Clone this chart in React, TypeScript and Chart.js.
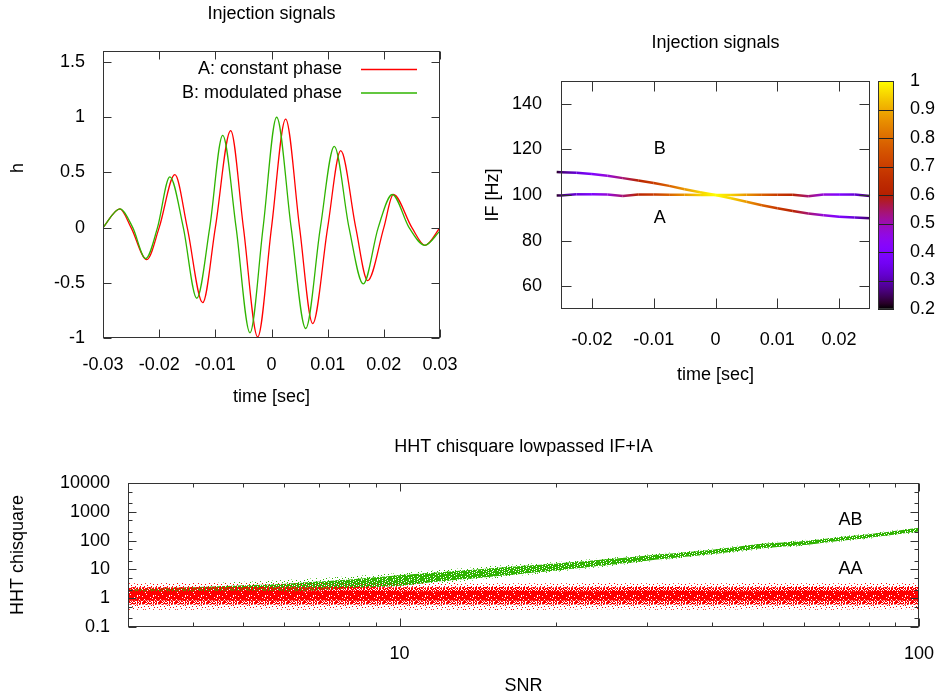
import React, { useEffect, useRef } from 'react';
import { Chart, registerables } from 'chart.js';

Chart.register(...registerables);

const FONT_FAMILY = '"Liberation Sans", Arial, sans-serif';
const FONT_SIZE = 18;
const INK = '#000';
const FRAME = '#333';
const RED = '#ff0000';
const GREEN = '#2fb400';

// ---------------- Panel 1 : waveforms ----------------
const WAVE_TITLE = 'Injection signals';
const WAVE_X_TITLE = 'time [sec]';
const WAVE_Y_TITLE = 'h';
const WAVE_X_TICKS = [-0.03, -0.02, -0.01, 0, 0.01, 0.02, 0.03];
const WAVE_X_TICK_LABELS = ['-0.03', '-0.02', '-0.01', '0', '0.01', '0.02', '0.03'];
const WAVE_Y_TICKS = [-1, -0.5, 0, 0.5, 1, 1.5];
const WAVE_Y_TICK_LABELS = ['-1', '-0.5', '0', '0.5', '1', '1.5'];
const WAVE_A_LABEL = 'A: constant phase';
const WAVE_B_LABEL = 'B: modulated phase';
const WAVE_A_TIME = [-0.03, -0.027, -0.025, -0.0222, -0.02, -0.0172, -0.015, -0.01225, -0.01, -0.00727, -0.005, -0.00246, 0, 0.00252, 0.005, 0.00733, 0.01, 0.01232, 0.015, 0.01712, 0.02, 0.02169, 0.025, 0.02733, 0.03];
const WAVE_A_H = [0, 0.17, 0, -0.29, 0, 0.48, 0, -0.68, 0, 0.878, 0, -0.99, 0, 0.983, 0, -0.869, 0, 0.697, 0, -0.48, 0, 0.3, 0, -0.16, 0];
const WAVE_B_TIME = [-0.03, -0.027, -0.0247, -0.0224, -0.0203, -0.0181, -0.0157, -0.0133, -0.011, -0.00869, -0.0063, -0.00383, -0.0015, 0.00092, 0.0035, 0.00609, 0.0087, 0.01118, 0.0138, 0.01634, 0.019, 0.0215, 0.0245, 0.0273, 0.03];
const WAVE_B_H = [0, 0.17, 0, -0.28, 0, 0.46, 0, -0.64, 0, 0.835, 0, -0.953, 0, 1.0, 0, -0.914, 0, 0.736, 0, -0.51, 0, 0.3, 0, -0.16, -0.03];

// ---------------- Panel 2 : instantaneous frequency ----------------
const IF_TITLE = 'Injection signals';
const IF_X_TITLE = 'time [sec]';
const IF_Y_TITLE = 'IF [Hz]';
const IF_X_TICKS = [-0.02, -0.01, 0, 0.01, 0.02];
const IF_X_TICK_LABELS = ['-0.02', '-0.01', '0', '0.01', '0.02'];
const IF_Y_TICKS = [60, 80, 100, 120, 140];
const IF_Y_TICK_LABELS = ['60', '80', '100', '120', '140'];
const CB_TICKS = [0.2, 0.3, 0.4, 0.5, 0.6, 0.7, 0.8, 0.9, 1];
const CB_TICK_LABELS = ['0.2', '0.3', '0.4', '0.5', '0.6', '0.7', '0.8', '0.9', '1'];
const IF_TIME = [-0.0257, -0.025, -0.0225, -0.02, -0.0175, -0.015, -0.0125, -0.01, -0.0075, -0.005, -0.0025, 0, 0.0025, 0.005, 0.0075, 0.01, 0.0125, 0.015, 0.0175, 0.02, 0.0225, 0.025];
const IF_A = [99.8, 99.8, 100.3, 100.3, 100.2, 99.6, 100.2, 100.2, 100.1, 100.1, 100, 100, 100, 100.1, 100.1, 100.1, 100.1, 99.5, 100.2, 100.2, 100.2, 99.6];
const IF_B = [110.1, 110.0, 109.8, 109.2, 108.4, 107.4, 106.4, 105.3, 104.0, 102.5, 101.2, 100, 98.6, 97.0, 95.5, 94.2, 93.0, 91.9, 91.1, 90.5, 90.1, 89.8];
const IF_AMP = [0.22, 0.26, 0.33, 0.4, 0.47, 0.54, 0.62, 0.69, 0.78, 0.87, 0.95, 1.0, 0.95, 0.87, 0.78, 0.69, 0.62, 0.54, 0.47, 0.4, 0.33, 0.25];
const IF_NOTES = [
  { text: 'B', x: -0.01, y: 120 },
  { text: 'A', x: -0.01, y: 90 },
];

// ---------------- Panel 3 : chisquare vs SNR ----------------
const CHI_TITLE = 'HHT chisquare lowpassed IF+IA';
const CHI_X_TITLE = 'SNR';
const CHI_Y_TITLE = 'HHT chisquare';
const CHI_X_MAJOR = [10, 100];
const CHI_X_MAJOR_LABELS = ['10', '100'];
const CHI_X_MINOR = [4, 5, 6, 7, 8, 9, 20, 30, 40, 50, 60, 70, 80, 90];
const CHI_Y_MAJOR = [0.1, 1, 10, 100, 1000, 10000];
const CHI_Y_MAJOR_LABELS = ['0.1', '1', '10', '100', '1000', '10000'];
const CHI_Y_MINOR = [0.2, 0.5, 2, 5, 20, 50, 200, 500, 2000, 5000];
const SNR = [3, 4, 5, 6, 7, 8, 10, 12, 15, 20, 25, 30, 40, 50, 60, 70, 80, 100];
// AB cloud: outer spread and dense core
const AB_LOW = [0.7, 0.85, 1.0, 1.2, 1.4, 1.7, 2.3, 3.2, 4.8, 8.2, 12.5, 18.5, 32, 50, 66, 92, 117, 190];
const AB_HIGH = [2.9, 3.2, 3.7, 4.3, 5.0, 5.8, 7.5, 9.5, 13, 18, 25, 33, 52, 82, 104, 140, 176, 295];
const AB_CORE_LOW = [1.0, 1.15, 1.35, 1.6, 1.9, 2.2, 2.7, 3.9, 5.6, 9.2, 14, 20, 34, 54, 70, 97, 124, 205];
const AB_CORE_HIGH = [2.0, 2.4, 2.8, 3.2, 3.8, 4.5, 6.3, 8.0, 11, 16, 22.5, 30.5, 48, 77, 97, 131, 165, 278];
// AA cloud: outer spread, middle and dense core
const AA_LOW = [0.4, 0.4, 0.41, 0.4, 0.4, 0.41, 0.4, 0.4, 0.39, 0.4, 0.41, 0.4, 0.4, 0.41, 0.4, 0.4, 0.41, 0.4];
const AA_HIGH = [3.3, 3.4, 3.3, 3.3, 3.4, 3.3, 3.3, 3.4, 3.3, 3.3, 3.4, 3.3, 3.3, 3.4, 3.3, 3.3, 3.4, 3.3];
const AA_MID_LOW = [0.6, 0.61, 0.6, 0.6, 0.61, 0.6, 0.6, 0.61, 0.6, 0.6, 0.61, 0.6, 0.6, 0.61, 0.6, 0.6, 0.61, 0.6];
const AA_MID_HIGH = [2.4, 2.4, 2.45, 2.4, 2.4, 2.45, 2.4, 2.4, 2.45, 2.4, 2.4, 2.45, 2.4, 2.4, 2.45, 2.4, 2.4, 2.45];
const AA_CORE_LOW = [0.82, 0.83, 0.82, 0.82, 0.83, 0.82, 0.82, 0.83, 0.82, 0.82, 0.83, 0.82, 0.82, 0.83, 0.82, 0.82, 0.83, 0.82];
const AA_CORE_HIGH = [1.75, 1.75, 1.8, 1.75, 1.75, 1.8, 1.75, 1.75, 1.8, 1.75, 1.75, 1.8, 1.75, 1.75, 1.8, 1.75, 1.75, 1.8];
const CHI_NOTES = [
  { text: 'AB', x: 70, y: 500 },
  { text: 'AA', x: 70, y: 10 },
];

// speckle textures used to render the dense point clouds (style only)
const SOLID_TILE = [
  'xxx.xxxxx.xxxx.x',
  'x.xxxx.xxxxx.xxx',
  'xxxx.xxx.xxxxx.x',
  '.xxxxx.xxxx.xxxx',
  'xx.xxxxx.xxxxx.x',
  'xxxx.x.xxxx.xxxx',
  'x.xxxxxx.xxxx.xx',
  'xxx.xx.xxxxx.xxx',
  'xx.xxxxx.x.xxxxx',
  'xxxxx.xxxxxx.x.x',
  '.xx.xxxx.xxxxxxx',
  'xxxxxx.xxx.xx.xx',
  'x.xxx.xxxxxxx.xx',
  'xxx.xxxx.xx.xxxx',
  'xx.xxx.xxxxxxx.x',
  'x.xxxxxxx.x.xxxx',
];
const DENSE_TILE = [
  'x.xx.xxx..x.xx.x',
  '.xx.x..xxx.xx..x',
  'xx..xx.x..xxx.x.',
  '.x.xx.xx.x..x.xx',
  'x.x..x.xxx.x.xx.',
  'xx.x.xx..x.xx..x',
  '.xx.x..x.xx.x.xx',
  'x..xx.xx.x.xx.x.',
  '.x.x.xx.xx..x.xx',
  'xx.xx..x.x.xx..x',
  'x.x..xx.x.xx.xx.',
  '.xx.x.x.xx..x.x.',
  'x..xx.xx..x.xx.x',
  '.x.x..x.xx.x.x.x',
  'xx.x.xx.x..xx.x.',
  '.x.xx..xx.x..xx.',
];
const SPARSE_TILE = [
  'x.......x.......',
  '....x.......x...',
  '..........x....x',
  '.x....x.........',
  '.........x...x..',
  '...x............',
  'x......x....x...',
  '.....x.........x',
  '..x........x....',
  '.......x.x......',
  'x...x...........',
  '..........x..x..',
  '.....x..........',
  '.x.......x.....x',
  '......x.....x...',
  '...x............',
];

// ---------------- helpers ----------------
const CB_MIN = 0.2;
const CB_MAX = 1;
function palette(v: number): string {
  const g = Math.min(1, Math.max(0, (v - CB_MIN) / (CB_MAX - CB_MIN)));
  const r = Math.sqrt(g);
  const gg = g * g * g;
  const b = Math.max(0, Math.sin(2 * Math.PI * g));
  return `rgb(${Math.round(r * 255)},${Math.round(gg * 255)},${Math.round(b * 255)})`;
}

function font(size = FONT_SIZE) {
  return `${size}px ${FONT_FAMILY}`;
}

function labelFor(values: number[], labels: string[]) {
  return (v: number) => {
    const k = values.indexOf(v);
    return k >= 0 ? labels[k] : '';
  };
}

function axis(ticks: number[], labeler: (v: number) => string, padding: number, fit: (s: any) => void, extra: any = {}) {
  return {
    grid: { display: false, drawTicks: false },
    border: { display: false },
    ticks: {
      autoSkip: false,
      maxRotation: 0,
      minRotation: 0,
      padding,
      color: INK,
      font: { family: FONT_FAMILY, size: FONT_SIZE },
      callback: (v: number) => labeler(v),
    },
    afterBuildTicks: (s: any) => {
      s.ticks = ticks.slice().sort((a, b) => a - b).map((v) => ({ value: v }));
    },
    afterFit: (s: any) => {
      fit(s);
      s.paddingLeft = 0;
      s.paddingRight = 0;
      s.paddingTop = 0;
      s.paddingBottom = 0;
    },
    ...extra,
  };
}

function tilePattern(canvas: HTMLCanvasElement, tile: string[], color: string) {
  const c = document.createElement('canvas');
  c.width = tile[0].length;
  c.height = tile.length;
  const g = c.getContext('2d')!;
  g.fillStyle = color;
  tile.forEach((row, y) => {
    for (let x = 0; x < row.length; x++) if (row[x] === 'x') g.fillRect(x, y, 1, 1);
  });
  return canvas.getContext('2d')!.createPattern(c, 'repeat');
}

const framePlugin = {
  id: 'gpFrame',
  afterDatasetsDraw(chart: any, _a: any, o: any) {
    const { ctx, chartArea: a } = chart;
    const L = Math.round(a.left) + 0.5;
    const R = Math.round(a.right) - 0.5;
    const T = Math.round(a.top) + 0.5;
    const B = Math.round(a.bottom) - 0.5;
    ctx.save();
    ctx.strokeStyle = FRAME;
    ctx.lineWidth = 1;
    ctx.beginPath();
    for (const id of ['x', 'y']) {
      const s = chart.scales[id];
      if (!s) continue;
      for (const t of s.ticks) {
        const len = t.label === '' ? o.minor : o.major;
        const p = Math.round(s.getPixelForValue(t.value)) + 0.5;
        if (id === 'x') {
          ctx.moveTo(p, B);
          ctx.lineTo(p, B - len);
          ctx.moveTo(p, T);
          ctx.lineTo(p, T + len);
        } else {
          ctx.moveTo(L, p);
          ctx.lineTo(L + len, p);
          ctx.moveTo(R, p);
          ctx.lineTo(R - len, p);
        }
      }
    }
    ctx.stroke();
    ctx.strokeRect(L, T, R - L, B - T);
    ctx.restore();
  },
};

const textPlugin = {
  id: 'gpText',
  afterDraw(chart: any, _a: any, o: any) {
    const ctx = chart.ctx;
    const a = chart.chartArea;
    for (const t of o.items || []) {
      ctx.save();
      ctx.font = font(t.size);
      ctx.fillStyle = INK;
      ctx.textAlign = t.align || 'center';
      ctx.textBaseline = 'middle';
      let x = t.x;
      let y = t.y;
      if (t.centerX) x = (a.left + a.right) / 2;
      if (t.dataX !== undefined) {
        x = chart.scales.x.getPixelForValue(t.dataX);
        y = chart.scales.y.getPixelForValue(t.dataY);
      }
      ctx.translate(x, y);
      if (t.rotate) ctx.rotate(t.rotate);
      ctx.fillText(t.text, 0, 0);
      ctx.restore();
    }
  },
};

const legendPlugin = {
  id: 'gpLegend',
  afterDraw(chart: any, _a: any, o: any) {
    const ctx = chart.ctx;
    chart.data.datasets.forEach((ds: any, i: number) => {
      const y = o.y0 + i * o.dy;
      ctx.save();
      ctx.font = font();
      ctx.fillStyle = INK;
      ctx.textAlign = 'right';
      ctx.textBaseline = 'middle';
      ctx.fillText(ds.label, o.textRight, y);
      ctx.strokeStyle = ds.borderColor;
      ctx.lineWidth = ds.borderWidth;
      ctx.beginPath();
      ctx.moveTo(o.x1, y);
      ctx.lineTo(o.x2, y);
      ctx.stroke();
      ctx.restore();
    });
  },
};

const colorbarPlugin = {
  id: 'gpColorbar',
  afterDraw(chart: any, _a: any, o: any) {
    const s = chart.scales.cb;
    const ctx = chart.ctx;
    const a = chart.chartArea;
    const x0 = Math.round(a.right) + o.gap;
    const x1 = x0 + o.width;
    const top = s.getPixelForValue(CB_MAX);
    const bot = s.getPixelForValue(CB_MIN);
    const grad = ctx.createLinearGradient(0, bot, 0, top);
    for (let k = 0; k <= 40; k++) {
      grad.addColorStop(k / 40, palette(CB_MIN + (k / 40) * (CB_MAX - CB_MIN)));
    }
    ctx.save();
    ctx.fillStyle = grad;
    ctx.fillRect(x0, top, x1 - x0, bot - top);
    ctx.strokeStyle = '#222';
    ctx.lineWidth = 1;
    ctx.beginPath();
    for (const t of s.ticks) {
      const p = Math.round(s.getPixelForValue(t.value)) + 0.5;
      ctx.moveTo(x0, p);
      ctx.lineTo(x1, p);
    }
    ctx.stroke();
    ctx.strokeStyle = FRAME;
    ctx.strokeRect(x0 + 0.5, Math.round(top) + 0.5, x1 - x0 - 1, Math.round(bot - top) - 1);
    ctx.restore();
  },
};

const baseOptions = {
  animation: false,
  responsive: false,
  events: [],
};

function makeWave(canvas: HTMLCanvasElement) {
  return new Chart(canvas, {
    type: 'line',
    data: {
      datasets: [
        {
          label: WAVE_A_LABEL,
          data: WAVE_A_TIME.map((t, i) => ({ x: t, y: WAVE_A_H[i] })),
          borderColor: RED,
          borderWidth: 1.3,
          pointRadius: 0,
          cubicInterpolationMode: 'monotone',
          order: 1,
        },
        {
          label: WAVE_B_LABEL,
          data: WAVE_B_TIME.map((t, i) => ({ x: t, y: WAVE_B_H[i] })),
          borderColor: GREEN,
          borderWidth: 1.3,
          pointRadius: 0,
          cubicInterpolationMode: 'monotone',
          order: 0,
        },
      ],
    },
    options: {
      ...baseOptions,
      layout: { padding: { left: 0, top: 51, right: 20, bottom: 0 } },
      plugins: {
        legend: { display: false },
        tooltip: { enabled: false },
        gpFrame: { major: 8, minor: 4 },
        gpLegend: { textRight: 342, x1: 361, x2: 417, y0: 69.5, dy: 23.5 },
        gpText: {
          items: [
            { text: WAVE_TITLE, centerX: true, y: 14 },
            { text: WAVE_Y_TITLE, x: 18.5, y: 168, rotate: -Math.PI / 2 },
            { text: WAVE_X_TITLE, centerX: true, y: 397 },
          ],
        },
      },
      scales: {
        x: { type: 'linear', min: -0.03, max: 0.03, ...axis(WAVE_X_TICKS, labelFor(WAVE_X_TICKS, WAVE_X_TICK_LABELS), 16, (s: any) => { s.height = 82; }) },
        y: { type: 'linear', min: -1, max: 1.6, ...axis(WAVE_Y_TICKS, labelFor(WAVE_Y_TICKS, WAVE_Y_TICK_LABELS), 18, (s: any) => { s.width = 103; }) },
      },
    },
    plugins: [framePlugin, textPlugin, legendPlugin],
  } as any);
}

function segColor(c: any) {
  const g = c.chart.ctx.createLinearGradient(c.p0.x, 0, c.p1.x + 0.01, 0);
  g.addColorStop(0, palette(IF_AMP[c.p0DataIndex]));
  g.addColorStop(1, palette(IF_AMP[c.p1DataIndex]));
  return g;
}

function makeIF(canvas: HTMLCanvasElement) {
  const lineStyle = {
    borderColor: palette(1),
    borderWidth: 2.5,
    pointRadius: 0,
    tension: 0,
    clip: false,
    segment: { borderColor: segColor },
  };
  return new Chart(canvas, {
    type: 'line',
    data: {
      datasets: [
        { label: 'A', data: IF_TIME.map((t, i) => ({ x: t, y: IF_A[i] })), ...lineStyle },
        { label: 'B', data: IF_TIME.map((t, i) => ({ x: t, y: IF_B[i] })), ...lineStyle },
      ],
    },
    options: {
      ...baseOptions,
      layout: { padding: { left: 0, top: 81, right: 0, bottom: 0 } },
      plugins: {
        legend: { display: false },
        tooltip: { enabled: false },
        gpFrame: { major: 10, minor: 5 },
        gpColorbar: { gap: 8, width: 16 },
        gpText: {
          items: [
            { text: IF_TITLE, centerX: true, y: 43 },
            { text: IF_Y_TITLE, x: 33, y: 195, rotate: -Math.PI / 2 },
            { text: IF_X_TITLE, centerX: true, y: 375 },
            ...IF_NOTES.map((n) => ({ text: n.text, dataX: n.x, dataY: n.y, align: 'left' })),
          ],
        },
      },
      scales: {
        x: { type: 'linear', min: -0.025, max: 0.025, ...axis(IF_X_TICKS, labelFor(IF_X_TICKS, IF_X_TICK_LABELS), 20, (s: any) => { s.height = 111; }) },
        y: { type: 'linear', min: 50, max: 150, ...axis(IF_Y_TICKS, labelFor(IF_Y_TICKS, IF_Y_TICK_LABELS), 19, (s: any) => { s.width = 101; }) },
        cb: { type: 'linear', position: 'right', min: CB_MIN, max: CB_MAX, ...axis(CB_TICKS, labelFor(CB_TICKS, CB_TICK_LABELS), 40, (s: any) => { s.width = 68; }) },
      },
    },
    plugins: [framePlugin, textPlugin, colorbarPlugin],
  } as any);
}

function band(low: number[], high: number[], fillStyle: any) {
  return [
    { data: SNR.map((s, i) => ({ x: s, y: low[i] })), borderWidth: 0, pointRadius: 0, fill: false, tension: 0.3 },
    { data: SNR.map((s, i) => ({ x: s, y: high[i] })), borderWidth: 0, pointRadius: 0, fill: '-1', backgroundColor: fillStyle, tension: 0.3 },
  ];
}

function makeChi(canvas: HTMLCanvasElement) {
  const redSolid = tilePattern(canvas, SOLID_TILE, RED);
  const redDense = tilePattern(canvas, DENSE_TILE, RED);
  const redSparse = tilePattern(canvas, SPARSE_TILE, RED);
  const greenSolid = tilePattern(canvas, SOLID_TILE, GREEN);
  const greenSparse = tilePattern(canvas, SPARSE_TILE, GREEN);
  return new Chart(canvas, {
    type: 'line',
    data: {
      datasets: [
        ...band(AA_CORE_LOW, AA_CORE_HIGH, redSolid),
        ...band(AA_MID_LOW, AA_MID_HIGH, redDense),
        ...band(AA_LOW, AA_HIGH, redSparse),
        ...band(AB_CORE_LOW, AB_CORE_HIGH, greenSolid),
        ...band(AB_LOW, AB_HIGH, greenSparse),
      ],
    },
    options: {
      ...baseOptions,
      layout: { padding: { left: 0, top: 63, right: 19, bottom: 0 } },
      plugins: {
        legend: { display: false },
        tooltip: { enabled: false },
        gpFrame: { major: 8, minor: 4 },
        gpText: {
          items: [
            { text: CHI_TITLE, centerX: true, y: 27 },
            { text: CHI_Y_TITLE, x: 18, y: 135, rotate: -Math.PI / 2 },
            { text: CHI_X_TITLE, centerX: true, y: 266.5 },
            ...CHI_NOTES.map((n) => ({ text: n.text, dataX: n.x, dataY: n.y, align: 'left' })),
          ],
        },
      },
      scales: {
        x: { type: 'logarithmic', min: 3, max: 100, ...axis([...CHI_X_MAJOR, ...CHI_X_MINOR], labelFor(CHI_X_MAJOR, CHI_X_MAJOR_LABELS), 16, (s: any) => { s.height = 73; }) },
        y: { type: 'logarithmic', min: 0.1, max: 10000, ...axis([...CHI_Y_MAJOR, ...CHI_Y_MINOR], labelFor(CHI_Y_MAJOR, CHI_Y_MAJOR_LABELS), 18, (s: any) => { s.width = 128; }) },
      },
    },
    plugins: [framePlugin, textPlugin],
  } as any);
}

export default function App() {
  const r1 = useRef<HTMLCanvasElement>(null);
  const r2 = useRef<HTMLCanvasElement>(null);
  const r3 = useRef<HTMLCanvasElement>(null);
  useEffect(() => {
    const charts = [makeWave(r1.current!), makeIF(r2.current!), makeChi(r3.current!)];
    return () => charts.forEach((c) => c.destroy());
  }, []);
  const pos = (left: number, top: number, width: number, height: number): React.CSSProperties => ({
    position: 'absolute', left, top, width, height,
  });
  return (
    <div style={{ position: 'absolute', left: 0, top: 0, width: 938, height: 700, background: '#fff', overflow: 'hidden' }}>
      <canvas ref={r1} width={460} height={420} style={pos(0, 0, 460, 420)} />
      <canvas ref={r2} width={478} height={420} style={pos(460, 0, 478, 420)} />
      <canvas ref={r3} width={938} height={280} style={pos(0, 420, 938, 280)} />
    </div>
  );
}
